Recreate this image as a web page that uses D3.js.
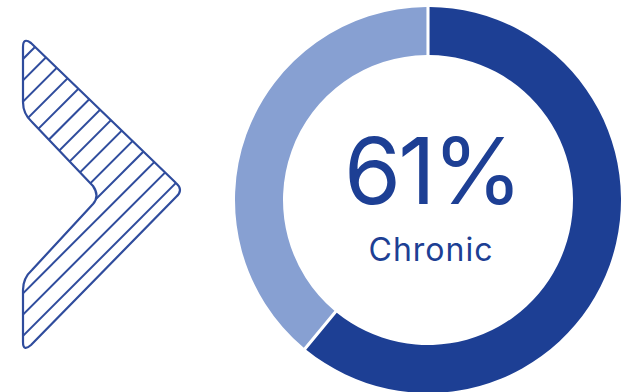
<!doctype html>
<html>
<head>
  <title> Chronic share </title>
  <script src="https://d3js.org/d3.v7.min.js" charset="utf-8"></script>
  <style>
    body { margin: 0; background: #fff; }
  </style>
</head>
<body>
  <svg width="631" height="392"></svg>
  <script>
  var categories = ["Chronic", "Other"],
      values = [61, 39],
      colors = ["#1d3f94", "#87a0d2"],
      label = "Chronic";

  var svg = d3.select("svg"),
      cx = 428, cy = 200,
      outer = 193, inner = 145;

  // chevron with diagonal hatching
  var chev = "M23,47 Q23,37 31,43 L176,183 Q184,190 176,197 L31,345 Q23,352 23,342 L23,290 Q23,278 32,270 L93,204 Q100,196 93,186 L32,122 Q23,114 23,102 Z";

  svg.append("clipPath").attr("id", "chev")
    .append("path").attr("d", chev);

  svg.append("g")
      .attr("clip-path", "url(#chev)")
    .selectAll("line")
    .data(d3.range(82, 372, 21.3))
    .enter().append("line")
      .attr("x1", 0).attr("y1", function(c) { return c; })
      .attr("x2", 220).attr("y2", function(c) { return c - 220; })
      .attr("stroke", "#2f4c9d")
      .attr("stroke-width", 2);

  svg.append("path")
      .attr("d", chev)
      .attr("fill", "none")
      .attr("stroke", "#2f4c9d")
      .attr("stroke-width", 2.2)
      .attr("stroke-linejoin", "round");

  // donut
  var pie = d3.pie().sort(null).value(function(d) { return d; });
  var arc = d3.arc().innerRadius(inner).outerRadius(outer)
      .padAngle(0.016).padRadius(outer);

  var g = svg.append("g")
      .attr("transform", "translate(" + cx + "," + cy + ")");

  g.selectAll("path")
    .data(pie(values))
    .enter().append("path")
      .attr("d", arc)
      .attr("fill", function(d, i) { return colors[i]; });

  g.append("text")
      .attr("x", 4).attr("y", 4)
      .attr("text-anchor", "middle")
      .attr("font-family", "Inter, 'Noto Sans', sans-serif")
      .attr("font-size", 92)
      .attr("letter-spacing", -3)
      .attr("fill", "#1d3f94")
      .text(values[0] + "%");

  g.append("text")
      .attr("x", 3).attr("y", 61)
      .attr("text-anchor", "middle")
      .attr("font-family", "Inter, 'Noto Sans', sans-serif")
      .attr("font-size", 32)
      .attr("letter-spacing", 1)
      .attr("fill", "#1d3f94")
      .text(label);
  </script>
</body>
</html>
